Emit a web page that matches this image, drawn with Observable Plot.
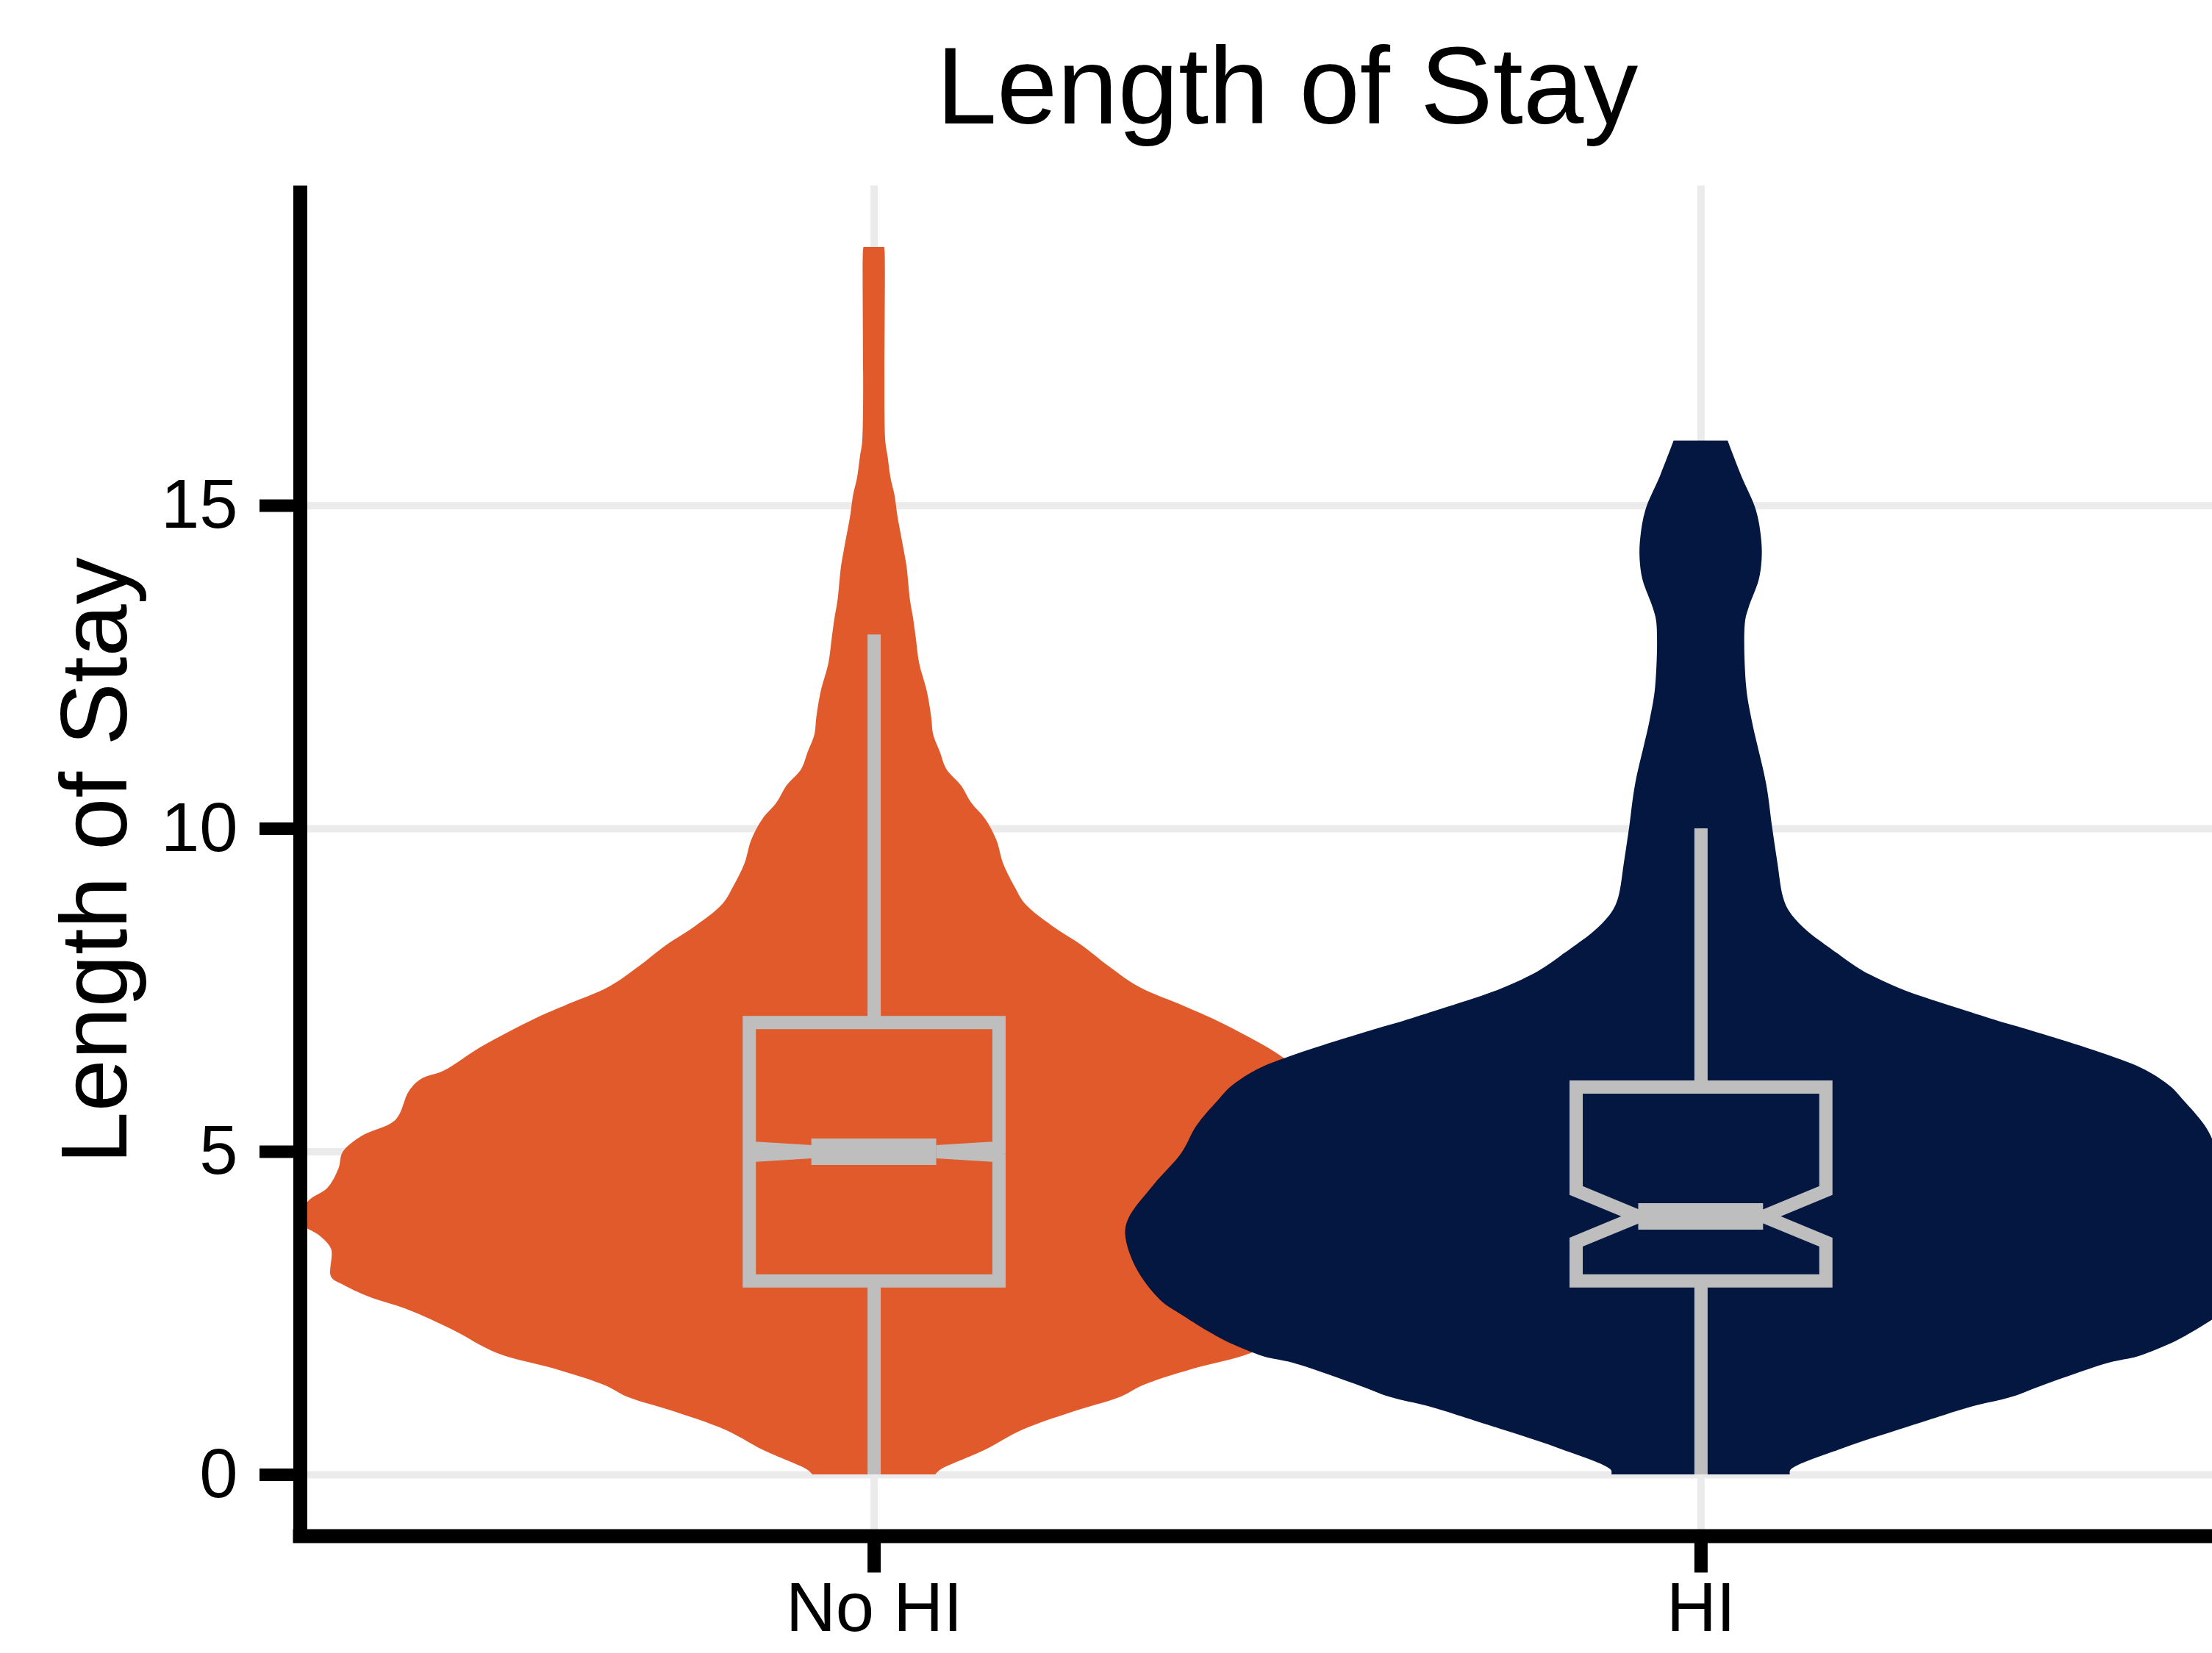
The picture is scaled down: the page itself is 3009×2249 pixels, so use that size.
<!DOCTYPE html>
<html>
<head>
<meta charset="utf-8">
<script src="https://cdn.jsdelivr.net/npm/d3@7"></script>
<script src="https://cdn.jsdelivr.net/npm/@observablehq/plot@0.6"></script>
<style>
html, body { margin: 0; padding: 0; background: #ffffff; overflow: hidden; }
#wrap { position: relative; width: 3009px; height: 2249px; overflow: hidden; font-family: "Liberation Sans", Arial, sans-serif; color: #000; }
#title { height: 220px; box-sizing: border-box; padding-top: 43px; margin-left: 408px; width: 2686px; text-align: center; font-size: 148px; line-height: 148px; white-space: nowrap; }
#ylab { position: absolute; left: -372px; top: 1107px; width: 1000px; height: 128px; line-height: 128px; font-size: 128px; text-align: center; transform: rotate(-90deg); white-space: nowrap; }
</style>
</head>
<body>
<div id="wrap">
  <div id="title">Length of Stay</div>
  <div id="chart"></div>
  <div id="ylab">Length of Stay</div>
</div>
<script>
// ---- data ----
const categories = ["No HI", "HI"];
const categoryPos = [1, 2];
const yTicks = [0, 5, 10, 15];
const colors = ["#E05A2B", "#041741"];

// violin outlines: length-of-stay value and relative density (1 = widest)
const noHiLos = [0, 0.07, 0.38, 0.69, 1.0, 1.2, 1.38, 1.63, 1.88, 2.25, 2.56, 2.75, 2.94, 3.06, 3.49, 3.69, 3.9, 4.1, 4.24, 4.44, 4.74, 4.99, 5.24, 5.49, 5.93, 6.12, 6.25, 6.62, 7.05, 7.25, 7.55, 7.86, 8.18, 8.49, 8.83, 9.09, 9.45, 9.82, 10.14, 10.4, 10.66, 10.92, 11.18, 11.46, 11.71, 12.13, 12.55, 12.95, 13.27, 13.53, 14.05, 14.31, 14.84, 15.16, 15.43, 15.76, 16.0, 18.9, 19.0];
const noHiDensity = [0.107, 0.115, 0.193, 0.258, 0.356, 0.428, 0.467, 0.552, 0.655, 0.734, 0.812, 0.877, 0.923, 0.943, 0.943, 0.962, 0.996, 0.99, 0.982, 0.949, 0.930, 0.923, 0.890, 0.831, 0.808, 0.787, 0.747, 0.682, 0.590, 0.539, 0.460, 0.409, 0.363, 0.310, 0.263, 0.245, 0.225, 0.213, 0.194, 0.169, 0.152, 0.126, 0.115, 0.103, 0.100, 0.092, 0.079, 0.073, 0.068, 0.063, 0.057, 0.052, 0.041, 0.036, 0.029, 0.024, 0.020, 0.019, 0.018];

const hiLos = [0, 0.07, 0.41, 0.74, 0.92, 1.06, 1.2, 1.4, 1.73, 1.83, 2.06, 2.2, 2.45, 2.7, 3.21, 3.72, 3.97, 4.48, 4.98, 5.4, 5.81, 6.0, 6.26, 6.51, 6.87, 7.02, 7.2, 7.52, 7.8, 8.03, 8.15, 8.46, 8.73, 8.94, 9.49, 10.03, 10.68, 11.66, 12.2, 13.19, 13.41, 13.85, 14.17, 14.49, 14.93, 15.47, 16.0];
const hiDensity = [0.155, 0.156, 0.248, 0.360, 0.423, 0.475, 0.540, 0.600, 0.709, 0.760, 0.824, 0.853, 0.898, 0.939, 0.982, 1.0, 0.994, 0.951, 0.902, 0.876, 0.837, 0.817, 0.773, 0.702, 0.575, 0.517, 0.453, 0.347, 0.281, 0.243, 0.224, 0.179, 0.153, 0.143, 0.133, 0.124, 0.114, 0.089, 0.079, 0.077, 0.083, 0.101, 0.106, 0.105, 0.096, 0.070, 0.047];

// box statistics: [min, q1, median, q3, max, notchLow, notchHigh]
const noHiBox = [0, 3, 5, 7, 13, 4.94, 5.06];
const hiBox = [0, 3, 4, 6, 10, 3.6, 4.4];

// ---- layout constants ----
const X_DOMAIN = [0.306, 2.694];
const Y_DOMAIN = [-0.95, 19.95];
const VIOLIN_HALF = 0.696;  // half width of widest violin point, in x units
const BOX_HALF = 0.151;     // half width of box, in x units
const GREY = "#BEBEBE";
const FONT = "Liberation Sans, Arial, sans-serif";

function violinRows(pos, los, dens) {
  return los.map((v, i) => ({pos, v, w: dens[i]}));
}
function boxOutline(pos, s) {
  const [mn, q1, med, q3, mx, nlo, nhi] = s;
  const b = BOX_HALF;
  return [
    {x: pos, y: q3},
    {x: pos - b, y: q3}, {x: pos - b, y: nhi}, {x: pos - b / 2, y: med}, {x: pos - b, y: nlo},
    {x: pos - b, y: q1}, {x: pos + b, y: q1}, {x: pos + b, y: nlo}, {x: pos + b / 2, y: med},
    {x: pos + b, y: nhi}, {x: pos + b, y: q3}, {x: pos, y: q3}
  ];
}
function boxMarks(pos, s) {
  const [mn, q1, med, q3, mx] = s;
  return [
    Plot.ruleX([{x: pos, y1: q3, y2: mx}, {x: pos, y1: mn, y2: q1}], {x: "x", y1: "y1", y2: "y2", stroke: GREY, strokeWidth: 18}),
    Plot.line(boxOutline(pos, s), {x: "x", y: "y", stroke: GREY, strokeWidth: 18, strokeLinejoin: "miter", strokeMiterlimit: 4, curve: "linear"}),
    Plot.ruleY([{y: med, x1: pos - BOX_HALF / 2, x2: pos + BOX_HALF / 2}], {y: "y", x1: "x1", x2: "x2", stroke: GREY, strokeWidth: 36})
  ];
}
function violin(rows, color) {
  return Plot.areaX(rows, {
    y: "v",
    x1: d => d.pos - d.w * VIOLIN_HALF,
    x2: d => d.pos + d.w * VIOLIN_HALF,
    fill: color,
    curve: "catmull-rom"
  });
}

const chart = Plot.plot({
  width: 3094,
  height: 2029,
  marginLeft: 408,
  marginRight: 0,
  marginTop: 32.4,
  marginBottom: 159.5,
  style: {fontFamily: FONT, maxWidth: "none", background: "#ffffff", color: "#000"},
  x: {type: "linear", domain: X_DOMAIN},
  y: {type: "linear", domain: Y_DOMAIN},
  marks: [
    Plot.ruleY(yTicks, {stroke: "#EBEBEB", strokeWidth: 10}),
    Plot.ruleX(categoryPos, {stroke: "#EBEBEB", strokeWidth: 10}),
    violin(violinRows(categoryPos[0], noHiLos, noHiDensity), colors[0]),
    violin(violinRows(categoryPos[1], hiLos, hiDensity), colors[1]),
    ...boxMarks(categoryPos[0], noHiBox),
    ...boxMarks(categoryPos[1], hiBox),
    Plot.ruleX([X_DOMAIN[0]], {y1: Y_DOMAIN[0], y2: Y_DOMAIN[1], stroke: "#000", strokeWidth: 19}),
    Plot.ruleY([Y_DOMAIN[0]], {x1: X_DOMAIN[0], x2: X_DOMAIN[1], stroke: "#000", strokeWidth: 19, strokeLinecap: "square"}),
    Plot.axisY({ticks: yTicks, tickSize: 55, tickPadding: 30, fontSize: 94, fontFamily: FONT, stroke: "#000", strokeWidth: 17, label: null, tickFormat: d => String(d)}),
    Plot.axisX({ticks: categoryPos, tickSize: 50, tickPadding: 12, fontSize: 94, fontFamily: FONT, stroke: "#000", strokeWidth: 18, label: null, tickFormat: d => categories[categoryPos.indexOf(d)]})
  ]
});
document.getElementById("chart").appendChild(chart);
</script>
</body>
</html>
